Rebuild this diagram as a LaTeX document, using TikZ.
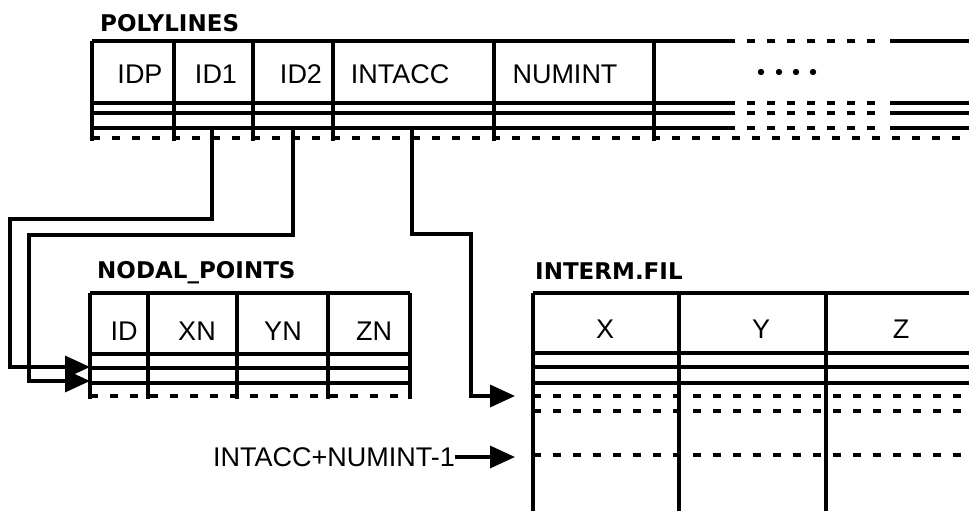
\documentclass[tikz,border=0pt]{standalone}
\usepackage{fontspec}
\setmainfont{Liberation Sans}
\newfontfamily\titlefont{DejaVu Sans}
\usetikzlibrary{positioning, arrows.meta}

\begin{document}
\begin{tikzpicture}[
  x=1pt, y=-1pt,
  every node/.style={font=\fontsize{27}{30}\selectfont, inner sep=0pt},
  tabletitle/.style={font=\titlefont\bfseries\fontsize{23}{26}\selectfont, anchor=base west},
  rowline/.style={line width=3.2pt},
  dashline/.style={line width=3.2pt, dash pattern=on 8pt off 12pt},
  link/.style={line width=3.4pt, -{Triangle[length=25pt, width=22pt]}},
]
\useasboundingbox (0,0) rectangle (969,511);

% POLYLINES
\node[tabletitle] (polyTitle) at (100,32) {POLYLINES};
\foreach \y in {41,103,113,128} {
  \draw[rowline] (92,\y) -- (735,\y) (890,\y) -- (969,\y);
  \draw[dashline] (747,\y) -- (885,\y);
}
\draw[dashline] (92,138) -- (969,138);
\foreach \x in {92,174,253,333,494,654}
  \draw[rowline] (\x,41) -- (\x,141);
\node (idp) at (140,74) {IDP};
\node (idOne) at (216,74) {ID1};
\node (idTwo) at (301,74) {ID2};
\node (intacc) at (400,74) {INTACC};
\node (numint) at (565,74) {NUMINT};
\foreach \x in {761,779,796,813}
  \fill (\x,72) circle (3.2pt);

% NODAL_POINTS
\node[tabletitle] (nodalTitle) at (97,278) {NODAL\_POINTS};
\foreach \y in {293,354,368,383}
  \draw[rowline] (90,\y) -- (410,\y);
\draw[dashline] (90,396) -- (410,396);
\foreach \x in {90,148,237,328,410}
  \draw[rowline] (\x,293) -- (\x,399);
\node (nodalId) at (124,331) {ID};
\node (nodalX) at (197,331) {XN};
\node (nodalY) at (283,331) {YN};
\node (nodalZ) at (374,331) {ZN};

% INTERM.FIL
\node[tabletitle] (intermTitle) at (535,279) {INTERM.FIL};
\foreach \y in {293,353,367,383}
  \draw[rowline] (533,\y) -- (969,\y);
\foreach \y in {396,411,455}
  \draw[dashline] (533,\y) -- (969,\y);
\foreach \x in {533,679,826}
  \draw[rowline] (\x,293) -- (\x,511);
\node (intermX) at (605,329) {X};
\node (intermY) at (761,329) {Y};
\node (intermZ) at (901,329) {Z};

% pointers
\coordinate (idOneFoot) at (212,128);
\coordinate (idTwoFoot) at (293,128);
\coordinate (intaccFoot) at (412,128);
\coordinate (nodalRowA) at (90,367);
\coordinate (nodalRowB) at (90,381);
\coordinate (intermFirst) at (515,396);
\coordinate (intermLast) at (515,457);
\draw[link] (idOneFoot) |- (10,219) |- (nodalRowA);
\draw[link] (idTwoFoot) |- (29,235) |- (nodalRowB);
\draw[link] (intaccFoot) |- (471,234) |- (intermFirst);
\node[anchor=west] (lastLabel) at (213,457) {INTACC+NUMINT-1};
\draw[link] (lastLabel.east) -- (intermLast);
\end{tikzpicture}
\end{document}
